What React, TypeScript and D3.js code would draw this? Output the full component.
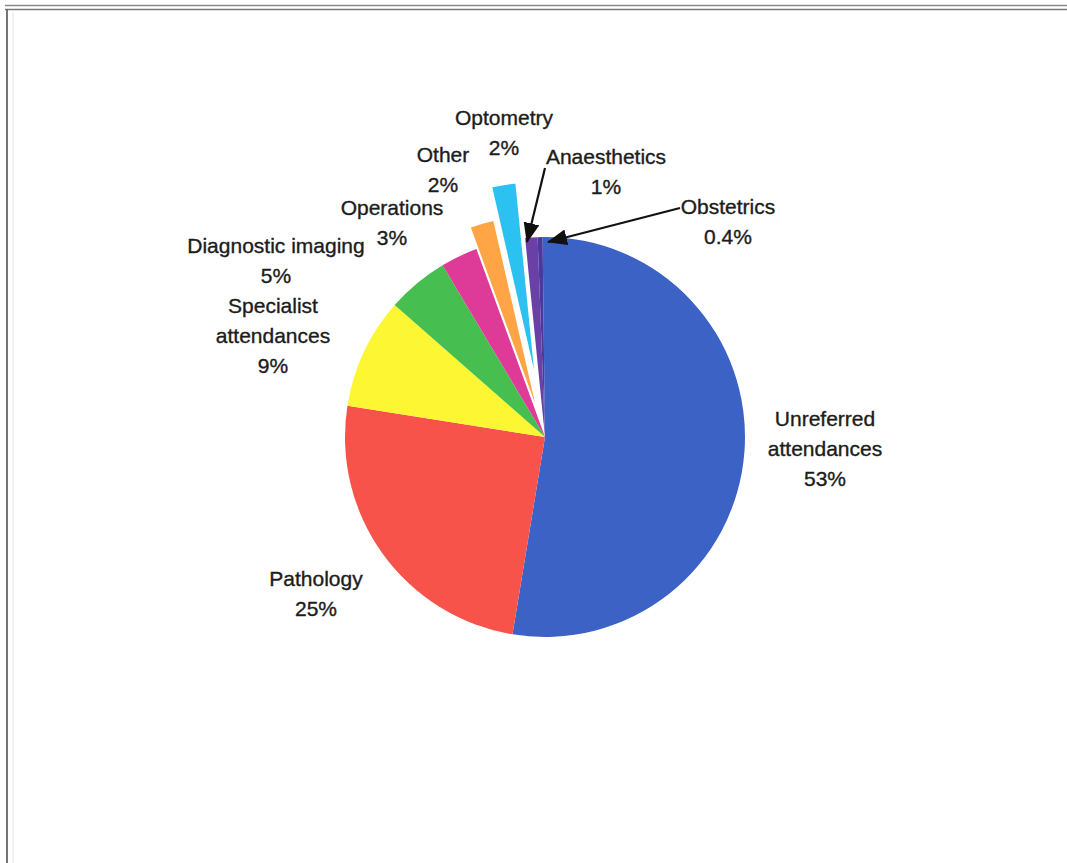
import React from "react";
import * as d3 from "d3";

const categories = [
  "Unreferred attendances",
  "Pathology",
  "Specialist attendances",
  "Diagnostic imaging",
  "Operations",
  "Other",
  "Optometry",
  "Anaesthetics",
  "Obstetrics",
];
const values = [53, 25, 9, 5, 3, 2, 2, 1, 0.4];
const pctLabels = ["53%", "25%", "9%", "5%", "3%", "2%", "2%", "1%", "0.4%"];
const labelLines = [
  ["Unreferred", "attendances"],
  ["Pathology"],
  ["Specialist", "attendances"],
  ["Diagnostic imaging"],
  ["Operations"],
  ["Other"],
  ["Optometry"],
  ["Anaesthetics"],
  ["Obstetrics"],
];
const colors = ["#3b62c4", "#f7534b", "#fdf733", "#47bf50", "#de3a98", "#ffa545", "#2bc2f1", "#6a40a6", "#4a3aa0"];
const explode = [0, 0, 0, 0, 0, 23, 56, 0, 0];
// label anchor (center x, first baseline y)
const labelPos: [number, number][] = [
  [825, 426],
  [316, 586],
  [273, 313],
  [276, 253],
  [392, 215],
  [443, 162],
  [504, 125],
  [606, 164],
  [728, 214],
];
const arrows: { from: [number, number]; to: [number, number] }[] = [
  { from: [545, 168], to: [527, 242] },
  { from: [680, 208], to: [548, 242] },
];

const W = 1067;
const H = 863;
const cx = 545;
const cy = 437;
const R = 200;

export default function App() {
  const data = categories.map((c, i) => ({ c, v: values[i], i }));
  const pie = d3
    .pie<any>()
    .sort(null)
    .value((d: any) => d.v)
    .startAngle(-0.012)
    .endAngle(2 * Math.PI - 0.012);
  const arcs = pie(data);
  const arc = d3.arc<any>().innerRadius(0).outerRadius(R);
  const font = "'Liberation Sans', Arial, sans-serif";
  return (
    <svg
      width={W}
      height={H}
      style={{ position: "absolute", left: 0, top: 0, background: "#fff" }}
    >
      <defs>
        <marker
          id="tri"
          viewBox="0 0 20 16"
          refX="19"
          refY="8"
          markerWidth="20"
          markerHeight="16"
          markerUnits="userSpaceOnUse"
          orient="auto"
        >
          <path d="M0,0 L20,8 L0,16 Z" fill="#111" />
        </marker>
      </defs>
      {/* page border */}
      <line x1={5} y1={5.5} x2={W} y2={5.5} stroke="#888" strokeWidth={1.5} />
      <line x1={5} y1={9.5} x2={W} y2={9.5} stroke="#777" strokeWidth={1.5} />
      <line x1={7} y1={9} x2={7} y2={H} stroke="#666" strokeWidth={1.8} />
      <line x1={13} y1={12} x2={13} y2={H} stroke="#e4e4e4" strokeWidth={1} />

      <g transform={`translate(${cx},${cy})`}>
        {arcs.map((a: any, i: number) => {
          const mid = (a.startAngle + a.endAngle) / 2;
          const dx = Math.sin(mid) * explode[i];
          const dy = -Math.cos(mid) * explode[i];
          return (
            <path
              key={i}
              d={arc(a) as string}
              fill={colors[i]}
              stroke={explode[i] ? "#fff" : "none"}
              strokeWidth={explode[i] ? 1.5 : 0}
              transform={`translate(${dx},${dy})`}
            />
          );
        })}
      </g>

      {arrows.map((ar, i) => (
        <line
          key={i}
          x1={ar.from[0]}
          y1={ar.from[1]}
          x2={ar.to[0]}
          y2={ar.to[1]}
          stroke="#111"
          strokeWidth={2.2}
          markerEnd="url(#tri)"
        />
      ))}

      {categories.map((c, i) => {
        const lines = [...labelLines[i], pctLabels[i]];
        const [x, y] = labelPos[i];
        return (
          <text
            key={c}
            x={x}
            y={y}
            textAnchor="middle"
            fontFamily={font}
            fontSize={21}
            fill="#1c1c1c"
            stroke="#1c1c1c"
            strokeWidth={0.35}
          >
            {lines.map((l, k) => (
              <tspan key={k} x={x} dy={k === 0 ? 0 : 30}>
                {l}
              </tspan>
            ))}
          </text>
        );
      })}
    </svg>
  );
}
